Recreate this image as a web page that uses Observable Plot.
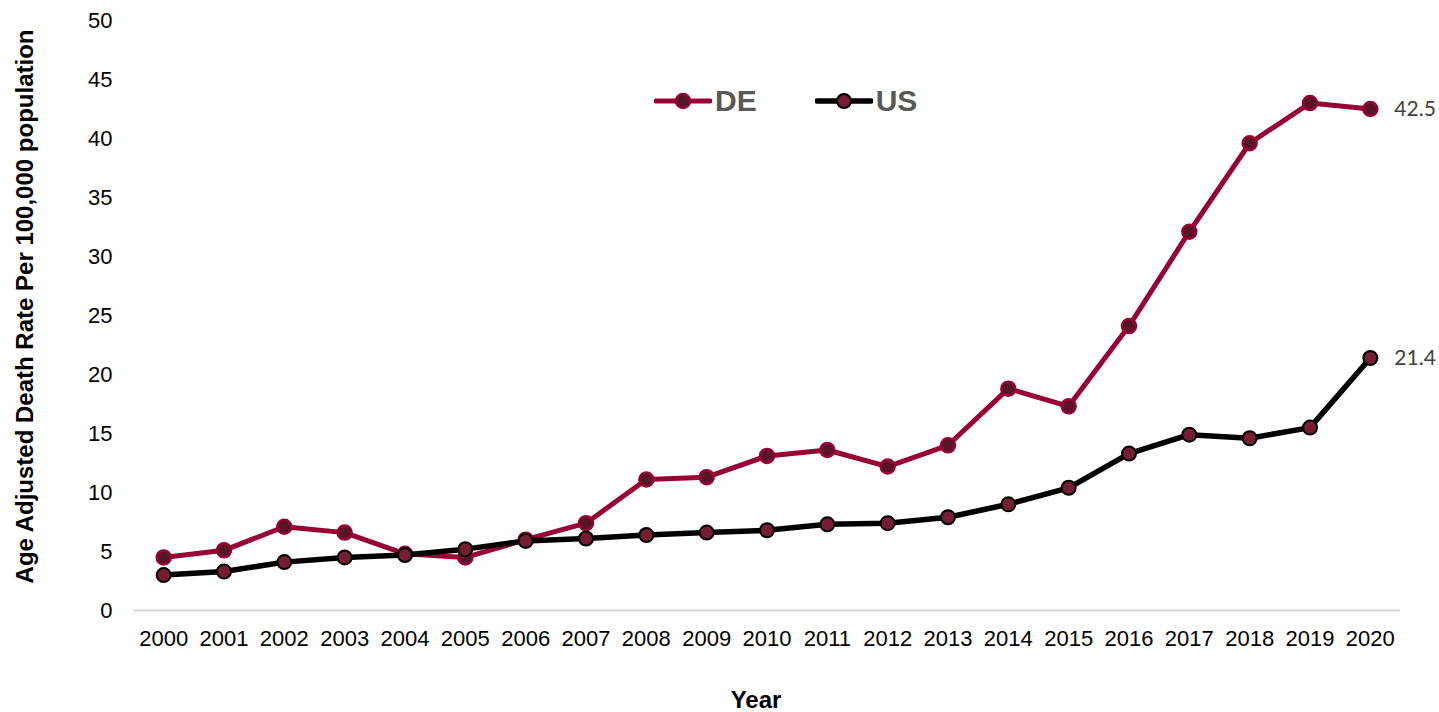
<!DOCTYPE html>
<html>
<head>
<meta charset="utf-8">
<script src="https://cdn.jsdelivr.net/npm/d3@7"></script>
<script src="https://cdn.jsdelivr.net/npm/@observablehq/plot@0.6"></script>
<style>
  html, body { margin: 0; padding: 0; background: #fff; }
  #wrap { position: relative; width: 1439px; height: 712px; }
  #legend { position: absolute; left: 654px; top: 84px; display: flex; gap: 58px;
    font-family: "Liberation Sans", Arial, sans-serif; font-weight: bold; font-size: 30px; color: #595959; }
  #legend .item { display: flex; align-items: center; }
  #legend svg { display: block; margin-right: 3px; }
</style>
</head>
<body>
<div id="wrap">
  <div id="chart"></div>
  <div id="legend"></div>
</div>
<script>
const years = [2000,2001,2002,2003,2004,2005,2006,2007,2008,2009,2010,2011,2012,2013,2014,2015,2016,2017,2018,2019,2020];
const deRates = [4.5,5.1,7.1,6.6,4.8,4.5,6.0,7.4,11.1,11.3,13.1,13.6,12.2,14.0,18.8,17.3,24.1,32.1,39.6,43.0,42.5];
const usRates = [3.0,3.3,4.1,4.5,4.7,5.2,5.9,6.1,6.4,6.6,6.8,7.3,7.4,7.9,9.0,10.4,13.3,14.9,14.6,15.5,21.4];
const seriesNames = ["DE", "US"];
const yTicks = [0,5,10,15,20,25,30,35,40,45,50];
const xTitle = "Year";
const yTitle = "Age Adjusted Death Rate Per 100,000 population";

const deData = years.map((y, i) => ({year: y, value: deRates[i], series: "DE"}));
const usData = years.map((y, i) => ({year: y, value: usRates[i], series: "US"}));
const lastPoints = [deData[deData.length - 1], usData[usData.length - 1]];

const style = {
  DE: {line: "#990033", lineWidth: 5, dotFill: "#561426", dotStroke: "#990033", dotStrokeWidth: 2.5},
  US: {line: "#000000", lineWidth: 5.5, dotFill: "#761d33", dotStroke: "#000000", dotStrokeWidth: 2}
};

const chart = Plot.plot({
  width: 1439,
  height: 712,
  marginTop: 20,
  marginLeft: 133,
  marginRight: 39,
  marginBottom: 102,
  style: {fontFamily: "'Liberation Sans', Arial, sans-serif", fontSize: "22px", color: "#000", background: "#fff"},
  x: {type: "point", domain: years, padding: 0.5, round: false, label: null},
  y: {domain: [0, 50], label: null},
  marks: [
    Plot.axisX({tickSize: 0, tickPadding: 20, tickFormat: d => String(d), fontSize: 22, label: null}),
    Plot.axisY({ticks: yTicks, tickSize: 0, tickPadding: 21, fontSize: 22, label: null}),
    Plot.text([xTitle], {frameAnchor: "bottom", dx: -11, dy: 90, lineAnchor: "middle", textAnchor: "middle",
      fontWeight: "bold", fontSize: 24, fill: "#000"}),
    Plot.text([yTitle], {frameAnchor: "left", rotate: -90, dx: -108, dy: -9, lineAnchor: "middle", textAnchor: "middle",
      fontWeight: "bold", fontSize: 24, fill: "#000"}),
    Plot.ruleY([0], {stroke: "#d9d9d9", strokeWidth: 2}),
    Plot.line(deData, {x: "year", y: "value", stroke: style.DE.line, strokeWidth: style.DE.lineWidth, strokeLinejoin: "round"}),
    Plot.dot(deData, {x: "year", y: "value", r: 7, fill: style.DE.dotFill, stroke: style.DE.dotStroke, strokeWidth: style.DE.dotStrokeWidth}),
    Plot.line(usData, {x: "year", y: "value", stroke: style.US.line, strokeWidth: style.US.lineWidth, strokeLinejoin: "round"}),
    Plot.dot(usData, {x: "year", y: "value", r: 7, fill: style.US.dotFill, stroke: style.US.dotStroke, strokeWidth: style.US.dotStrokeWidth}),
    Plot.text(lastPoints, {x: "year", y: "value", text: d => d.value.toFixed(1), dx: 24, textAnchor: "start",
      fontFamily: "Lato, 'Open Sans', sans-serif", fontSize: 21, fill: "#404040"})
  ]
});
document.getElementById("chart").appendChild(chart);

// Legend (HTML overlay)
const legend = document.getElementById("legend");
seriesNames.forEach(name => {
  const s = style[name];
  const item = document.createElement("div");
  item.className = "item";
  item.innerHTML = `<svg width="58" height="20" viewBox="0 0 58 20">
      <line x1="2" y1="10" x2="56" y2="10" stroke="${s.line}" stroke-width="${s.lineWidth}" stroke-linecap="round"/>
      <circle cx="29" cy="10" r="7" fill="${s.dotFill}" stroke="${s.dotStroke}" stroke-width="${s.dotStrokeWidth}"/>
    </svg><span>${name}</span>`;
  legend.appendChild(item);
});
</script>
</body>
</html>
